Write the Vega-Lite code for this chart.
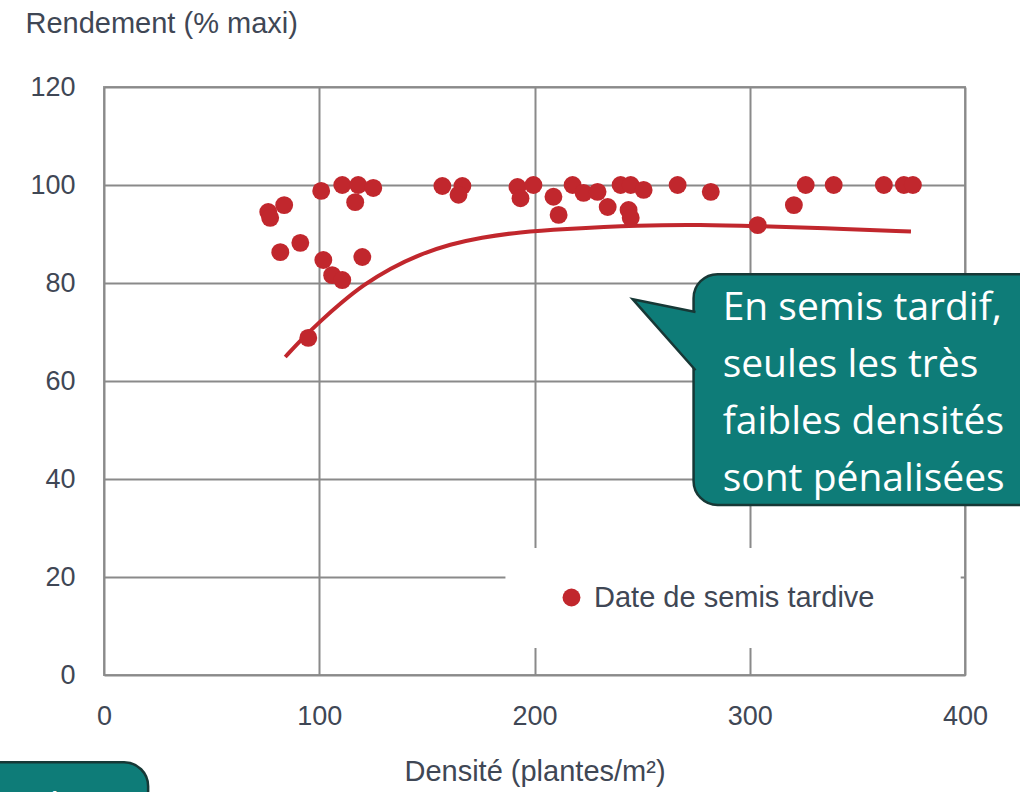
{
  "$schema": "https://vega.github.io/schema/vega-lite/v6.json",
  "width": 861,
  "height": 588,
  "autosize": {"type": "none"},
  "padding": {"left": 104, "top": 87, "right": 55, "bottom": 117},
  "background": "white",
  "config": {
    "view": {"stroke": "#9a9a9a", "strokeWidth": 2},
    "font": "Liberation Sans",
    "axis": {
      "labelFont": "Liberation Sans",
      "titleFont": "Liberation Sans",
      "labelColor": "#3f4755",
      "titleColor": "#3f4755",
      "ticks": false,
      "domain": false,
      "grid": true,
      "gridColor": "#8a8a8a",
      "gridWidth": 2,
      "labelFontSize": 27,
      "titleFontSize": 29,
      "titleFontWeight": "normal",
      "labelFlush": false,
      "labelOverlap": false
    }
  },
  "datasets": {
    "points": [
      {"x": 76.3, "y": 94.5}, {"x": 77.2, "y": 93.3}, {"x": 83.7, "y": 95.9},
      {"x": 81.9, "y": 86.3}, {"x": 91.2, "y": 88.2}, {"x": 100.9, "y": 98.8},
      {"x": 110.7, "y": 100}, {"x": 118.1, "y": 100}, {"x": 125.1, "y": 99.4},
      {"x": 116.7, "y": 96.5}, {"x": 101.9, "y": 84.7}, {"x": 120.0, "y": 85.3},
      {"x": 106.0, "y": 81.6}, {"x": 110.7, "y": 80.6}, {"x": 94.9, "y": 68.8},
      {"x": 157.2, "y": 99.8}, {"x": 166.5, "y": 99.8}, {"x": 164.7, "y": 98.0},
      {"x": 192.1, "y": 99.6}, {"x": 199.5, "y": 100}, {"x": 193.5, "y": 97.3},
      {"x": 208.8, "y": 97.6}, {"x": 211.2, "y": 93.9}, {"x": 217.7, "y": 100},
      {"x": 222.8, "y": 98.4}, {"x": 229.3, "y": 98.6}, {"x": 234.0, "y": 95.5},
      {"x": 240.0, "y": 100}, {"x": 244.7, "y": 100}, {"x": 250.7, "y": 99.0},
      {"x": 243.7, "y": 94.9}, {"x": 244.7, "y": 93.3}, {"x": 266.5, "y": 100},
      {"x": 281.9, "y": 98.6}, {"x": 303.7, "y": 91.8}, {"x": 320.5, "y": 95.9},
      {"x": 326.0, "y": 100}, {"x": 339.0, "y": 100}, {"x": 362.3, "y": 100},
      {"x": 371.6, "y": 100}, {"x": 375.8, "y": 100}
    ],
    "curve": [
      {"x": 84.2, "y": 64.9}, {"x": 92.0, "y": 68.6}, {"x": 100.5, "y": 72.2},
      {"x": 110.0, "y": 75.9}, {"x": 120.5, "y": 79.6}, {"x": 133.0, "y": 83.0},
      {"x": 147.0, "y": 85.9}, {"x": 160.9, "y": 87.9}, {"x": 174.9, "y": 89.3},
      {"x": 193.5, "y": 90.4}, {"x": 212.1, "y": 91.0}, {"x": 249.3, "y": 91.8},
      {"x": 277.2, "y": 91.9}, {"x": 303.7, "y": 91.6}, {"x": 333.0, "y": 91.2},
      {"x": 374.9, "y": 90.5}
    ],
    "legendbox": [{"x": 186.5, "x2": 398, "y": 5.5, "y2": 25.9}],
    "bubble": [
      {"x": 273.9, "x2": 460, "y": 81.8, "y2": 34.7},
      {"x": -80, "x2": 20.5, "y": -17.8, "y2": -45}
    ],
    "pointer": [
      {"x": 274.8, "y": 74.1, "o": 1},
      {"x": 245.6, "y": 76.7, "o": 2},
      {"x": 274.8, "y": 62.2, "o": 3}
    ],
    "callout": [
      {"x": 287.4, "y": 72.4, "t": "En semis tardif,\nseules les très\nfaibles densités\nsont pénalisées"},
      {"x": -53, "y": -29.6, "t": "et des"}
    ]
  },
  "encoding": {
    "x": {
      "field": "x",
      "type": "quantitative",
      "scale": {"domain": [0, 400], "nice": false, "zero": false},
      "axis": {
        "values": [0, 100, 200, 300, 400],
        "labelPadding": 28,
        "title": "Densité (plantes/m²)",
        "titleY": 105,
        "titleBaseline": "alphabetic"
      }
    },
    "y": {
      "field": "y",
      "type": "quantitative",
      "scale": {"domain": [0, 120], "nice": false, "zero": false},
      "axis": {
        "values": [0, 20, 40, 60, 80, 100, 120],
        "labelPadding": 29,
        "title": "Rendement (% maxi)",
        "titleAngle": 0,
        "titleAlign": "left",
        "titleBaseline": "alphabetic",
        "titleX": -79,
        "titleY": -55
      }
    }
  },
  "layer": [
    {
      "data": {"name": "legendbox"},
      "mark": {"type": "rect", "fill": "white"},
      "encoding": {"x2": {"field": "x2"}, "y2": {"field": "y2"}}
    },
    {
      "data": {"name": "curve"},
      "mark": {"type": "line", "color": "#c1272d", "strokeWidth": 4, "interpolate": "basis"}
    },
    {
      "data": {"name": "points"},
      "mark": {"type": "point", "filled": true, "opacity": 1, "size": 320, "shape": "circle"},
      "encoding": {
        "color": {
          "datum": "Date de semis tardive",
          "scale": {"range": ["#c1272d"]},
          "legend": {
            "orient": "none",
            "legendX": 453,
            "legendY": 496,
            "title": null,
            "labelFont": "Liberation Sans",
            "labelFontSize": 29,
            "labelColor": "#3f4755",
            "labelOffset": 8,
            "labelLimit": 500,
            "symbolSize": 320,
            "symbolType": "circle",
            "symbolOpacity": 1,
            "padding": 0
          }
        }
      }
    },
    {
      "data": {"name": "bubble"},
      "mark": {"type": "rect", "fill": "#0e7c78", "stroke": "#173836", "strokeWidth": 2.5, "cornerRadius": 24},
      "encoding": {"x2": {"field": "x2"}, "y2": {"field": "y2"}}
    },
    {
      "data": {"name": "pointer"},
      "mark": {"type": "line", "fill": "#0e7c78", "stroke": "#173836", "strokeWidth": 2.5},
      "encoding": {"order": {"field": "o", "type": "quantitative"}}
    },
    {
      "data": {"name": "callout"},
      "mark": {"type": "text", "font": "Open Sans", "fontSize": 39, "color": "white", "align": "left", "baseline": "alphabetic", "lineBreak": "\n", "lineHeight": 57},
      "encoding": {"text": {"field": "t"}}
    }
  ]
}
